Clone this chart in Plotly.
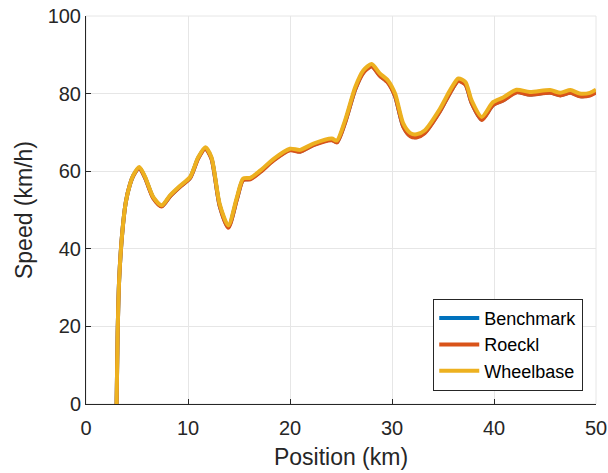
import plotly.graph_objects as go

position_km = [3.0, 3.1, 3.25, 3.55, 3.9, 4.3, 4.64, 5.23, 5.8, 6.6, 7.42, 8.24, 9.2, 10.2, 11.0, 11.7,
               12.3, 13.1, 13.95, 14.8, 15.4, 16.1, 17.1, 18.4, 20.0, 21.0, 22.3, 24.1, 24.6,
               25.4, 26.4, 27.2, 28.0, 28.8, 29.6, 30.3, 31.1, 31.8, 32.4, 33.2, 34.7, 35.7,
               36.5, 37.2, 37.8, 38.8, 39.9, 40.9, 42.2, 43.5, 45.5, 46.5, 47.5, 48.4, 49.4, 50.0]

wheelbase = [0, 18, 32, 44, 52, 56.5, 59.0, 61.1, 58.5, 53.3, 51.2, 53.8, 56.2, 58.5, 63.6, 66.2,
             63.6, 51.6, 46.0, 53.3, 58.1, 58.3, 60.2, 63.2, 65.8, 65.5, 67.1, 68.4, 67.9,
             73.1, 81.7, 86.0, 87.6, 85.2, 83.4, 80.0, 72.3, 69.8, 69.5, 70.5, 76.1, 80.9,
             83.9, 83.0, 78.3, 74.0, 77.8, 79.0, 81.0, 80.4, 80.9, 80.2, 80.9, 80.0, 80.2, 81.0]

roeckl = [0, 18, 32, 44, 52, 56.5, 58.8, 60.8, 58.2, 53.0, 50.9, 53.5, 55.9, 58.2, 63.3, 65.8,
          63.2, 51.1, 45.4, 52.8, 57.7, 57.9, 59.8, 62.8, 65.4, 65.0, 66.7, 68.0, 67.4,
          72.5, 81.1, 85.4, 87.0, 84.6, 82.8, 79.3, 71.5, 69.0, 68.7, 69.8, 75.4, 80.2,
          83.2, 82.3, 77.6, 73.2, 77.0, 78.2, 80.3, 79.7, 80.2, 79.5, 80.2, 79.3, 79.5, 80.3]

benchmark = [0, 18, 32, 44, 52, 56.5, 58.9, 60.9, 58.3, 53.1, 51.0, 53.6, 56.0, 58.3, 63.4, 65.9,
             63.3, 51.2, 45.6, 52.9, 57.8, 58.0, 59.9, 62.9, 65.5, 65.1, 66.8, 68.1, 67.5,
             72.6, 81.2, 85.5, 87.1, 84.7, 82.9, 79.4, 71.6, 69.1, 68.8, 69.9, 75.5, 80.3,
             83.3, 82.4, 77.7, 73.3, 77.1, 78.3, 80.4, 79.8, 80.3, 79.6, 80.3, 79.4, 79.6, 80.4]

x_ticks = [0, 10, 20, 30, 40, 50]
y_ticks = [0, 20, 40, 60, 80, 100]

series = [("Benchmark", benchmark, "#0072BD"),
          ("Roeckl", roeckl, "#D95319"),
          ("Wheelbase", wheelbase, "#EDB120")]

fig = go.Figure()
for name, vals, color in series:
    fig.add_trace(go.Scatter(x=position_km, y=vals, mode="lines", name=name,
                             line=dict(color=color, width=4, shape="spline", smoothing=0.7)))

font_family = "Liberation Sans, Arial, sans-serif"
fig.update_layout(
    width=608, height=473,
    margin=dict(l=86, r=12, t=16, b=69),
    plot_bgcolor="white", paper_bgcolor="white",
    font=dict(family=font_family, size=20, color="#262626"),
    showlegend=True,
    legend=dict(x=0.975, y=0.034, xanchor="right", yanchor="bottom",
                bgcolor="white", bordercolor="#262626", borderwidth=1,
                font=dict(size=18, color="#000000"), tracegroupgap=0,
                itemwidth=40),
    xaxis=dict(range=[0, 50], tickvals=x_ticks, showgrid=True, gridcolor="#e6e6e6",
               showline=True, linecolor="#262626", linewidth=1, ticks="inside",
               ticklen=5, tickcolor="#262626", zeroline=False, mirror=False,
               automargin=False, tickfont=dict(size=20), ticklabelstandoff=6,
               title=dict(text="Position (km)", font=dict(size=23), standoff=10)),
    yaxis=dict(range=[0, 100], tickvals=y_ticks, showgrid=True, gridcolor="#e6e6e6",
               showline=True, linecolor="#262626", linewidth=1, ticks="inside",
               ticklen=5, tickcolor="#262626", zeroline=False, mirror=False,
               automargin=False, tickfont=dict(size=20),
               title=dict(text="Speed (km/h)", font=dict(size=23), standoff=8)),
)
fig.add_shape(type="rect", xref="paper", yref="paper", x0=0, y0=0, x1=1, y1=1,
              line=dict(color="#e6e6e6", width=1), layer="below")

fig.write_html("out.html")
